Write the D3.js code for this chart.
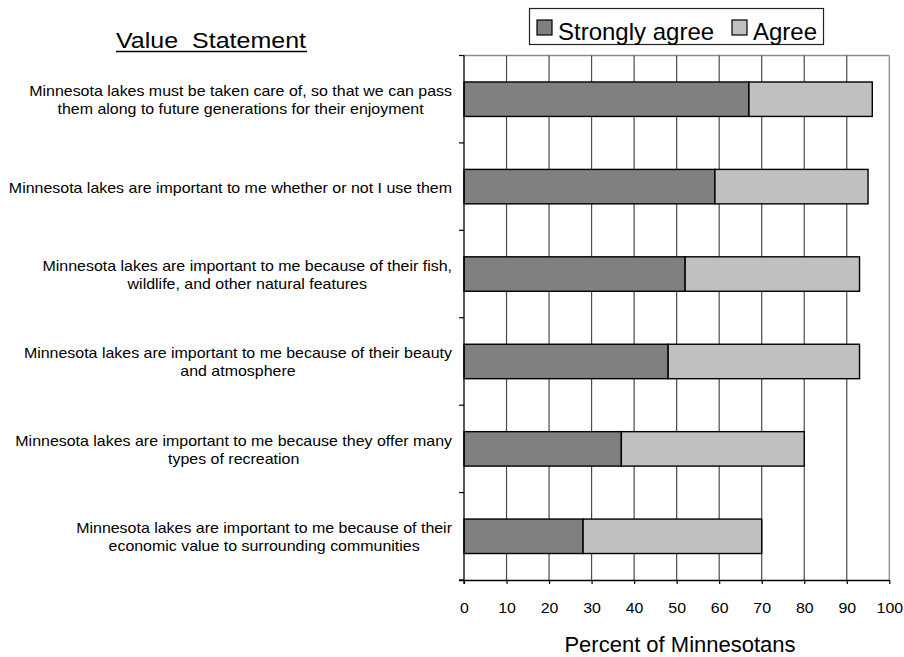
<!DOCTYPE html>
<html><head><meta charset="utf-8">
<script src="https://cdn.jsdelivr.net/npm/d3@7"></script>
<style>body{margin:0;background:#fff}svg{display:block}text{font-family:"Liberation Sans",Arial,sans-serif;fill:#000}</style>
</head><body>
<svg id="c" width="904" height="657"></svg>
<script>
const categories = [
  ["Minnesota lakes must be taken care of, so that we can pass", "them along to future generations for their enjoyment"],
  ["Minnesota lakes are important to me whether or not I use them"],
  ["Minnesota lakes are important to me because of their fish,", "wildlife, and other natural features"],
  ["Minnesota lakes are important to me because of their beauty", "and atmosphere"],
  ["Minnesota lakes are important to me because they offer many", "types of recreation"],
  ["Minnesota lakes are important to me because of their", "economic value to surrounding communities"]
];
const stronglyAgree = [67, 59, 52, 48, 37, 28];
const agree = [29, 36, 41, 45, 43, 42];
const seriesNames = ["Strongly agree", "Agree"];
const xTicks = [0, 10, 20, 30, 40, 50, 60, 70, 80, 90, 100];

const svg = d3.select("#c");
const L = 464, R = 889.3, T = 55.5, B = 580;
const x = d3.scaleLinear().domain([0, 100]).range([L, R]);
const y = d3.scaleBand().domain(d3.range(categories.length)).range([T, B]).paddingInner(0.606).paddingOuter(0.303);
const band = d3.scaleBand().domain(d3.range(categories.length)).range([T, B]);

// plot border (top/right)
svg.append("line").attr("x1", L).attr("x2", R).attr("y1", T).attr("y2", T).attr("stroke", "#8a8a8a").attr("stroke-width", 1.3);
svg.append("line").attr("x1", R).attr("x2", R).attr("y1", T).attr("y2", B).attr("stroke", "#8a8a8a").attr("stroke-width", 1.3);

// gridlines
svg.append("g").selectAll("line").data(xTicks.filter(d => d > 0 && d < 100)).join("line")
  .attr("x1", d => x(d)).attr("x2", d => x(d)).attr("y1", T).attr("y2", B)
  .attr("stroke", "#4a4a4a").attr("stroke-width", 1.2);

// bars
const rows = categories.map((c, i) => ({i, s: stronglyAgree[i], a: agree[i]}));
const g = svg.append("g");
g.selectAll("rect.s").data(rows).join("rect").attr("class", "s")
  .attr("x", x(0)).attr("y", d => y(d.i)).attr("width", d => x(d.s) - x(0)).attr("height", y.bandwidth())
  .attr("fill", "#808080").attr("stroke", "#000").attr("stroke-width", 1.4);
g.selectAll("rect.a").data(rows).join("rect").attr("class", "a")
  .attr("x", d => x(d.s)).attr("y", d => y(d.i)).attr("width", d => x(d.s + d.a) - x(d.s)).attr("height", y.bandwidth())
  .attr("fill", "#c0c0c0").attr("stroke", "#000").attr("stroke-width", 1.4);

// left axis
svg.append("line").attr("x1", L).attr("x2", L).attr("y1", T).attr("y2", B + 4).attr("stroke", "#000").attr("stroke-width", 1.3);
const bounds = d3.range(categories.length + 1).map(i => T + i * band.bandwidth());
svg.append("g").selectAll("line").data(bounds).join("line")
  .attr("x1", L - 5).attr("x2", L).attr("y1", d => d).attr("y2", d => d).attr("stroke", "#000").attr("stroke-width", 1.2);

// bottom axis
const xAxis = d3.axisBottom(x).tickValues(xTicks).tickSize(4).tickPadding(18).tickFormat(d3.format("d"));
const ax = svg.append("g").attr("transform", `translate(0,${B})`).call(xAxis);
ax.select(".domain").attr("d", `M${L - 5},0.5H${R}`).attr("stroke", "#000").attr("stroke-width", 1.3);
ax.selectAll(".tick line").attr("stroke", "#000").attr("stroke-width", 1.2);
ax.selectAll(".tick text").attr("font-size", 15).attr("font-family", '"Liberation Sans",Arial,sans-serif').attr("fill", "#000").attr("dy", null).attr("y", 33);
ax.selectAll(".tick text").each(function () {
  const w = this.getComputedTextLength();
  d3.select(this).attr("textLength", w * 1.06).attr("lengthAdjust", "spacingAndGlyphs");
});

// category labels
const labelRight = 452, lh = 18, stretch = 1.063;
const lg = svg.append("g").attr("font-size", 15);
categories.forEach((lines, i) => {
  const cy = band(i) + band.bandwidth() / 2;
  const t = lg.append("text").attr("text-anchor", "middle");
  lines.forEach((ln, j) => {
    t.append("tspan").attr("x", 0).attr("y", cy + (j - (lines.length - 1) / 2) * lh + 6).text(ln);
  });
  let maxW = 0;
  t.selectAll("tspan").each(function () {
    const w = this.getComputedTextLength();
    maxW = Math.max(maxW, w * stretch);
  });
  t.selectAll("tspan").each(function () {
    const w = this.getComputedTextLength();
    d3.select(this).attr("textLength", w * stretch).attr("lengthAdjust", "spacingAndGlyphs");
  });
  t.selectAll("tspan").attr("x", labelRight - maxW / 2);
});

// title
svg.append("text").attr("x", 211).attr("y", 48).attr("text-anchor", "middle").attr("font-size", 22.5)
  .attr("textLength", 190).attr("lengthAdjust", "spacingAndGlyphs")
  .style("white-space", "pre").text("Value\u00a0\u00a0Statement");
svg.append("line").attr("x1", 116).attr("x2", 307).attr("y1", 51.5).attr("y2", 51.5).attr("stroke", "#000").attr("stroke-width", 1.4);

// axis title
svg.append("text").attr("x", 680).attr("y", 652).attr("text-anchor", "middle").attr("font-size", 22).text("Percent of Minnesotans");

// legend
const leg = svg.append("g");
leg.append("rect").attr("x", 529.5).attr("y", 8.5).attr("width", 294).attr("height", 36).attr("fill", "#fff").attr("stroke", "#222").attr("stroke-width", 1.2);
const legX = [537, 732];
const colors = ["#808080", "#c0c0c0"];
seriesNames.forEach((n, i) => {
  leg.append("rect").attr("x", legX[i]).attr("y", 20).attr("width", 15).attr("height", 15).attr("fill", colors[i]).attr("stroke", "#000").attr("stroke-width", 1.2);
  leg.append("text").attr("x", legX[i] + 21).attr("y", 39.5).attr("font-size", 24).text(n);
});
</script>
</body></html>
